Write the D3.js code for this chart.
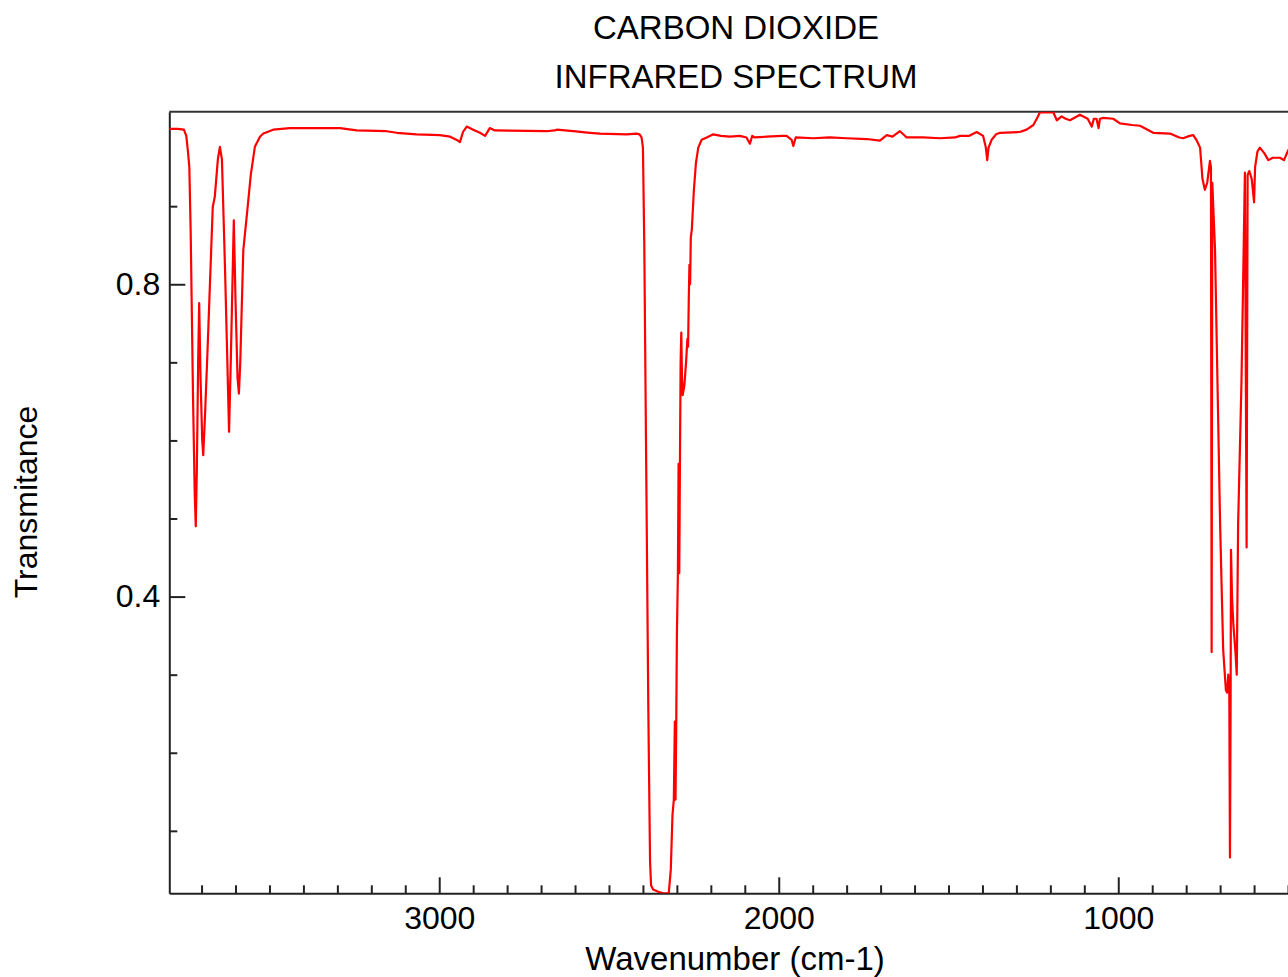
<!DOCTYPE html>
<html>
<head>
<meta charset="utf-8">
<script src="https://cdn.jsdelivr.net/npm/d3@7"></script>
<style>
    body { margin: 0; background: #fff; }
    .view text { font-family: "Liberation Sans", Arial, sans-serif; fill: #000; }
</style>
</head>
<body>
<div class="view"></div>
<script>
// spectrum: wavenumber (cm-1) and transmittance
var wavenumbers = [
    3796, 3770, 3752, 3745, 3740, 3736, 3732, 3725, 3720, 3717, 3714, 3710, 3707, 3703, 3698, 3695,
    3690, 3682, 3677, 3667, 3661, 3652, 3646, 3640, 3631, 3624, 3619, 3614, 3605, 3600, 3594, 3590,
    3586, 3577, 3566, 3555, 3543, 3528, 3518, 3489, 3440, 3292, 3243, 3155, 3125, 3067, 2998, 2968,
    2945, 2939, 2930, 2919, 2900, 2880, 2865, 2851, 2836, 2684, 2660, 2654, 2605, 2556, 2527, 2448,
    2419, 2410, 2404, 2400, 2396, 2390, 2384, 2379, 2376, 2370, 2355, 2340, 2324, 2318, 2313, 2309,
    2306, 2304, 2302, 2300, 2297, 2295, 2293, 2291, 2289, 2287, 2285, 2283, 2278, 2273, 2269, 2267,
    2265, 2263, 2261, 2259, 2256, 2250, 2244, 2237, 2227, 2212, 2193, 2170, 2144, 2114, 2095, 2085,
    2078, 2071, 2036, 1990, 1977, 1962, 1957, 1950, 1898, 1850, 1800, 1741, 1702, 1682, 1665, 1643,
    1623, 1575, 1525, 1480, 1467, 1440, 1417, 1398, 1390, 1386, 1382, 1373, 1360, 1348, 1290, 1270,
    1250, 1240, 1231, 1191, 1181, 1167, 1155, 1142, 1113, 1090, 1078, 1072, 1064, 1058, 1054, 1044,
    1015, 995, 960, 936, 897, 848, 820, 809, 790, 779, 770, 759, 752, 745, 738, 730,
    727, 725, 723, 715, 700, 691, 683, 679, 676, 673, 671, 669, 668, 665, 661, 655,
    651, 647, 637, 627, 622, 619, 614, 607, 600, 597, 590, 583, 570, 558, 545, 524,
    512, 499, 485
];

var transmittance = [
    0.999, 0.999, 0.998, 0.99, 0.97, 0.95, 0.866, 0.652, 0.53, 0.49, 0.56, 0.70, 0.776, 0.68, 0.60, 0.581,
    0.63, 0.72, 0.78, 0.899, 0.912, 0.96, 0.976, 0.96, 0.822, 0.70, 0.611, 0.70, 0.882, 0.78, 0.68, 0.66,
    0.70, 0.844, 0.891, 0.94, 0.976, 0.989, 0.993, 0.998, 1.0, 1.0, 0.997, 0.996, 0.994, 0.992, 0.991, 0.989,
    0.984, 0.982, 0.995, 1.002, 0.998, 0.994, 0.99, 1.0, 0.997, 0.996, 0.997, 0.998, 0.996, 0.994, 0.993, 0.992,
    0.993, 0.992, 0.988, 0.975, 0.85, 0.55, 0.25, 0.06, 0.03, 0.025, 0.022, 0.02, 0.02, 0.05, 0.12, 0.14,
    0.24, 0.14, 0.23, 0.35, 0.43, 0.57, 0.43, 0.57, 0.70, 0.738, 0.68, 0.658, 0.67, 0.70, 0.73, 0.72,
    0.78, 0.825, 0.80, 0.86, 0.87, 0.92, 0.955, 0.975, 0.985, 0.988, 0.992, 0.990, 0.989, 0.99, 0.988, 0.98,
    0.99, 0.988, 0.989, 0.990, 0.990, 0.985, 0.977, 0.988, 0.987, 0.988, 0.987, 0.986, 0.984, 0.991, 0.989, 0.996,
    0.988, 0.988, 0.987, 0.988, 0.990, 0.99, 0.995, 0.99, 0.975, 0.959, 0.975, 0.985, 0.992, 0.994, 0.995, 0.998,
    1.004, 1.012, 1.02, 1.02, 1.01, 1.015, 1.012, 1.01, 1.017, 1.012, 1.002, 1.012, 1.012, 1.0, 1.012, 1.013,
    1.012, 1.006, 1.004, 1.003, 0.994, 0.993, 0.988, 0.987, 0.99, 0.991, 0.985, 0.975, 0.935, 0.921, 0.93, 0.958,
    0.95, 0.329, 0.93, 0.844, 0.492, 0.332, 0.28, 0.277, 0.30, 0.28, 0.066, 0.28, 0.46, 0.40, 0.364, 0.33,
    0.30, 0.492, 0.677, 0.943, 0.463, 0.94, 0.945, 0.935, 0.905, 0.95, 0.97, 0.975, 0.968, 0.959, 0.962, 0.962,
    0.959, 0.972, 0.975
];

var xMajorTicks = [3000, 2000, 1000];
var yMajorTicks = [0.4, 0.8];
var yMinorTicks = [0.1, 0.2, 0.3, 0.5, 0.6, 0.7, 0.9];

var titleLines = ["CARBON DIOXIDE", "INFRARED SPECTRUM"];

var width = 1288;
var height = 977;

var plot = { left: 169.3, top: 111.7, bottom: 893.3 };

var svg = d3.select(".view")
    .append("svg")
    .attr("width", width)
    .attr("height", height);

var x = d3.scaleLinear()
    .domain([3795, 450])
    .range([plot.left, 1305]);

var y = d3.scaleLinear()
    .domain([0.02, 1.021])
    .range([plot.bottom, plot.top]);

var xMinorTicks = d3.range(3700, 450, -100).filter(function (d) {
    return d % 1000 != 0;
});

var data = wavenumbers.map(function (w, i) {
    return { w: w, t: transmittance[i] };
});

svg.append("clipPath")
    .attr("id", "plot-clip")
    .append("rect")
    .attr("x", plot.left)
    .attr("y", plot.top)
    .attr("width", width - plot.left)
    .attr("height", plot.bottom - plot.top);

// minor ticks (no labels), pointing into the plot
svg.append("g")
    .attr("class", "x-minor")
    .attr("transform", "translate(0," + plot.bottom + ")")
    .call(d3.axisBottom(x).tickValues(xMinorTicks).tickSize(-8).tickSizeOuter(0).tickFormat(""));

svg.append("g")
    .attr("class", "y-minor")
    .attr("transform", "translate(" + plot.left + ",0)")
    .call(d3.axisLeft(y).tickValues(yMinorTicks).tickSize(-8).tickSizeOuter(0).tickFormat(""));

var xAxis = svg.append("g")
    .attr("class", "x-axis")
    .attr("transform", "translate(0," + plot.bottom + ")")
    .call(d3.axisBottom(x).tickValues(xMajorTicks).tickSize(-16).tickSizeOuter(0).tickPadding(13).tickFormat(d3.format("d")));

var yAxis = svg.append("g")
    .attr("class", "y-axis")
    .attr("transform", "translate(" + plot.left + ",0)")
    .call(d3.axisLeft(y).tickValues(yMajorTicks).tickSize(-16).tickSizeOuter(0).tickPadding(9).tickFormat(d3.format(".1f")));

svg.selectAll(".x-minor .domain, .y-minor .domain").remove();

svg.selectAll(".x-axis text, .y-axis text")
    .attr("font-family", "Liberation Sans, Arial, sans-serif")
    .attr("font-size", 32)
    .attr("fill", "#000");

svg.selectAll(".tick line, .domain")
    .attr("stroke", "#222")
    .attr("stroke-width", 2);

// top border of the frame
svg.append("line")
    .attr("x1", plot.left)
    .attr("x2", width)
    .attr("y1", plot.top)
    .attr("y2", plot.top)
    .attr("stroke", "#333")
    .attr("stroke-width", 2);

var line = d3.line()
    .x(function (d) { return x(d.w); })
    .y(function (d) { return y(d.t); });

svg.append("path")
    .datum(data)
    .attr("clip-path", "url(#plot-clip)")
    .attr("fill", "none")
    .attr("stroke", "#ff0000")
    .attr("stroke-width", 2.2)
    .attr("stroke-linejoin", "round")
    .attr("d", line);

svg.selectAll(".title")
    .data(titleLines)
    .enter().append("text")
    .attr("class", "title")
    .attr("x", 736)
    .attr("y", function (d, i) { return 39 + i * 49; })
    .attr("text-anchor", "middle")
    .attr("font-size", 33)
    .text(function (d) { return d; });

svg.append("text")
    .attr("x", 735)
    .attr("y", 970)
    .attr("text-anchor", "middle")
    .attr("font-size", 33)
    .text("Wavenumber (cm-1)");

svg.append("text")
    .attr("transform", "translate(26,502) rotate(-90)")
    .attr("dy", "0.35em")
    .attr("text-anchor", "middle")
    .attr("font-size", 32)
    .text("Transmitance");
</script>
</body>
</html>
